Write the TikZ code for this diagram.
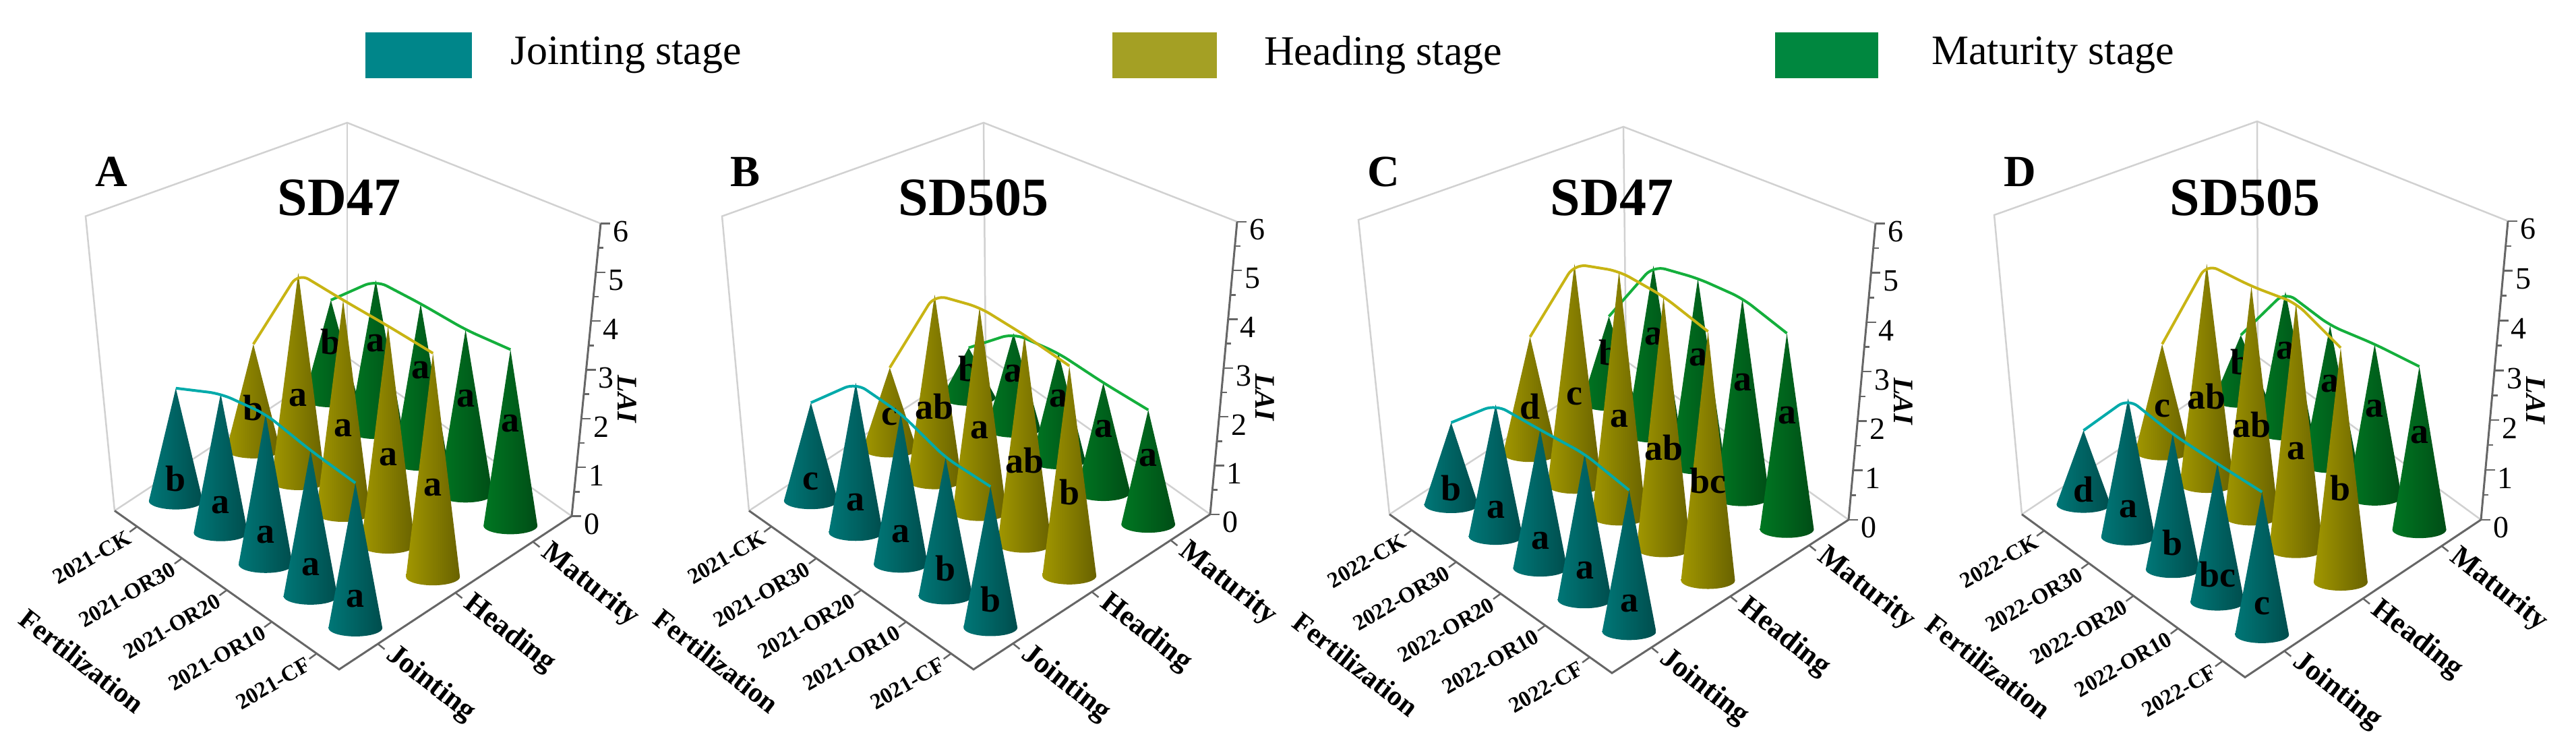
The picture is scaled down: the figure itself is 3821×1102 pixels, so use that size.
\documentclass[tikz,border=0pt]{standalone}
\usepackage{fontspec}
\setmainfont{Liberation Serif}
\usetikzlibrary{calc}
\begin{document}
\begin{tikzpicture}[x=1pt,y=1pt,
  grayline/.style={draw=black!18,line width=2.5pt},
  axisline/.style={draw=black!60,line width=3pt},
  conelab/.style={font=\fontsize{54}{54}\selectfont\bfseries,inner sep=0pt},
  catlab/.style={font=\fontsize{33}{33}\selectfont\bfseries,inner sep=0pt,anchor=east,rotate=30},
  stagelab/.style={font=\fontsize{44}{44}\selectfont\bfseries,inner sep=0pt,anchor=west,rotate=-38},
  ticklab/.style={font=\fontsize{46}{46}\selectfont,inner sep=0pt,anchor=west},
  stline/.style={line width=4pt,rounded corners=18pt},
  legtext/.style={font=\fontsize{62}{62}\selectfont,anchor=west,inner sep=0pt}]
\definecolor{J}{RGB}{0,140,140}
\definecolor{H}{RGB}{190,178,0}
\definecolor{M}{RGB}{0,140,40}
\definecolor{JL}{RGB}{0,134,138}
\definecolor{HL}{RGB}{164,160,36}
\definecolor{ML}{RGB}{0,135,63}
\definecolor{Jline}{RGB}{0,170,170}
\definecolor{Hline}{RGB}{200,180,20}
\definecolor{Mline}{RGB}{20,175,60}
\useasboundingbox (0,0) rectangle (3821,-1102);
% legend
\fill[JL] (542,-48) rectangle (700,-116) node[midway] (legJbox) {};
\node[legtext] (legJ) at (757,-82) {Jointing stage};
\fill[HL] (1650,-48) rectangle (1805,-116) node[midway] (legHbox) {};
\node[legtext] (legH) at (1875,-82) {Heading stage};
\fill[ML] (2633,-48) rectangle (2786,-116) node[midway] (legMbox) {};
\node[legtext] (legM) at (2865,-82) {Maturity stage};

\newcommand\drawcone[4]{% color, cx, by, ty
  \path[left color=#1!85!black, middle color=#1!85!white, right color=#1!55!black]
   (#2-40,-#3) -- (#2,-#4) -- (#2+40,-#3)
   arc[start angle=0,end angle=-180,x radius=40,y radius=12.5] -- cycle;}

\newcommand\stagecones[4]{%
  \foreach \ty/\lab [count=\i from 0] in #3 {
    \pgfmathsetmacro\tyy{250+0.895*(\ty-250)}
    \pgfmathsetmacro\tv{0.9-0.2*\i}
    \pgfmathsetmacro\sv{(2*#1+1)/6}
    \pgfmathsetmacro\cx{\Fx+\tv*(\Lx-\Fx)+\sv*(\Rx-\Fx)}
    \pgfmathsetmacro\by{\Fy+\tv*(\Ly-\Fy)+\sv*(\Ry-\Fy)}
    \pgfmathsetmacro\lyy{\by-#4*(\by-\tyy)}
    \drawcone{#2}{\cx}{\by}{\tyy}
    \coordinate (tip-\id-#1-\i) at (\cx,-\tyy);
    \node[conelab] (lab-\id-#1-\i) at (\cx,-\lyy) {\lab};
  }}

\newcommand\drawpanel{%
  \pgfmathsetmacro\Fy{250+0.895*(\Fy-250)}
  \pgfmathsetmacro\Ly{250+0.895*(\Ly-250)}
  \pgfmathsetmacro\Ry{250+0.895*(\Ry-250)}
  \pgfmathsetmacro\Lty{250+0.895*(\Lty-250)}
  \pgfmathsetmacro\Rty{250+0.895*(\Rty-250)}
  \coordinate (F-\id) at (\Fx,-\Fy);
  \coordinate (L-\id) at (\Lx,-\Ly);
  \coordinate (R-\id) at (\Rx,-\Ry);
  \coordinate (B-\id) at (\Lx+\Rx-\Fx,-\Ly-\Ry+\Fy);
  \coordinate (Lt-\id) at (\Ltx,-\Lty);
  \coordinate (Bt-\id) at (\Btx,-\Bty);
  \coordinate (Rt-\id) at (\Rtx,-\Rty);
  \draw[grayline] (L-\id) -- (B-\id) -- (R-\id);
  \draw[grayline] (L-\id) -- (Lt-\id) -- (Bt-\id) -- (Rt-\id);
  \draw[grayline] (B-\id) -- (Bt-\id);
  \draw[axisline] (R-\id) -- (Rt-\id);
  \foreach \k in {0,...,12} {
    \pgfmathsetmacro\len{ifthenelse(mod(\k,2)==0,14,8)}
    \draw[axisline,line width=2.5pt] ($(R-\id)!\k/12!(Rt-\id)$) -- ++(\len,0);
  }
  \foreach \k in {0,...,6} {
    \node[ticklab] (tk-\id-\k) at ($(R-\id)!\k/6!(Rt-\id)+(18,-12)$) {\k};
  }
  \node[font=\fontsize{42}{42}\selectfont\bfseries\itshape,rotate=-90] (lai-\id) at ($(R-\id)!0.4!(Rt-\id)+(65,0)$) {LAI};
  \draw[axisline] (L-\id) -- (F-\id) -- (R-\id);
  \foreach \lab [count=\i from 0] in \cats {
    \pgfmathsetmacro\tv{0.9-0.2*\i}
    \coordinate (ft-\id-\i) at ($(F-\id)!\tv!(L-\id)$);
    \draw[axisline,line width=2.5pt] (ft-\id-\i) -- ++(-11,-8);
    \node[catlab] (cat-\id-\i) at ($(ft-\id-\i)+(-12,-14)$) {\lab};
  }
  \foreach \lab [count=\i from 0] in {Jointing,Heading,Maturity} {
    \pgfmathsetmacro\sv{(2*\i+1)/6}
    \coordinate (st-\id-\i) at ($(F-\id)!\sv!(R-\id)$);
    \draw[axisline,line width=2.5pt] (st-\id-\i) -- ++(10,-8);
    \node[stagelab] (stg-\id-\i) at ($(st-\id-\i)+(17,-12)$) {\lab};
  }
  \node[font=\fontsize{42}{42}\selectfont\bfseries,rotate=-38] (fert-\id) at ($(F-\id)!0.5!(L-\id)+(-215,-105)$) {Fertilization};
  \stagecones{2}{M}{\tipsM}{0.58}
  \draw[stline,Mline] (tip-\id-2-0) -- (tip-\id-2-1) -- (tip-\id-2-2) -- (tip-\id-2-3) -- (tip-\id-2-4);
  \stagecones{1}{H}{\tipsH}{0.4}
  \draw[stline,Hline] (tip-\id-1-0) -- (tip-\id-1-1) -- (tip-\id-1-2) -- (tip-\id-1-3) -- (tip-\id-1-4);
  \stagecones{0}{J}{\tipsJ}{0.2}
  \draw[stline,Jline] (tip-\id-0-0) -- (tip-\id-0-1) -- (tip-\id-0-2) -- (tip-\id-0-3) -- (tip-\id-0-4);
  \node[font=\fontsize{80}{80}\selectfont\bfseries] (title-\id) at (\Fx,-293) {\ttl};
  \node[font=\fontsize{66}{66}\selectfont\bfseries] (letter-\id) at (\letx,-255) {\id};
}

% Panel A
\def\id{A}\def\Fx{503}\def\Fy{1080}\def\Lx{170}\def\Ly{817}\def\Rx{848}\def\Ry{826}
\def\Ltx{127}\def\Lty{329}\def\Btx{515}\def\Bty{182}\def\Rtx{891}\def\Rty{341}
\def\letx{165}\def\ttl{SD47}
\def\cats{2021-CK,2021-OR30,2021-OR20,2021-OR10,2021-CF}
\def\tipsJ{614/b,623/a,657/a,717/a,771/a}
\def\tipsH{541/b,423/a,468/a,511/a,556/a}
\def\tipsM{468/b,435/a,474/a,517/a,550/a}
\drawpanel
% Panel B
\def\id{B}\def\Fx{1444}\def\Fy{1080}\def\Lx{1111}\def\Ly{817}\def\Rx{1795}\def\Ry{823}
\def\Ltx{1071}\def\Lty{329}\def\Btx{1459}\def\Bty{182}\def\Rtx{1835}\def\Rty{338}
\def\letx{1105}\def\ttl{SD505}
\def\tipsJ{638/c,605/a,656/a,729/b,777/b}
\def\tipsH{580/c,459/ab,480/a,526/ab,577/b}
\def\tipsM{547/b,523/a,556/a,605/a,650/a}
\drawpanel
% Panel C
\def\id{C}\def\Fx{2391}\def\Fy{1086}\def\Lx{2061}\def\Ly{823}\def\Rx{2742}\def\Ry{832}
\def\Ltx{2015}\def\Lty{335}\def\Btx{2408}\def\Bty{188}\def\Rtx{2782}\def\Rty{341}
\def\letx{2052}\def\ttl{SD47}
\def\cats{2022-CK,2022-OR30,2022-OR20,2022-OR10,2022-CF}
\def\tipsJ{671/b,641/a,683/a,723/a,783/a}
\def\tipsH{529/d,408/c,420/a,462/ab,520/bc}
\def\tipsM{495/b,411/a,432/a,465/a,523/a}
\drawpanel
% Panel D
\def\id{D}\def\Fx{3330}\def\Fy{1093}\def\Lx{2999}\def\Ly{823}\def\Rx{3680}\def\Ry{832}
\def\Ltx{2958}\def\Lty{327}\def\Btx{3348}\def\Bty{180}\def\Rtx{3720}\def\Rty{337}
\def\letx{2996}\def\ttl{SD505}
\def\tipsJ{684/d,631/a,690/b,739/bc,786/c}
\def\tipsH{541/c,408/ab,445/ab,473/a,547/b}
\def\tipsM{526/b,454/a,510/a,541/a,578/a}
\drawpanel
\end{tikzpicture}
\end{document}
